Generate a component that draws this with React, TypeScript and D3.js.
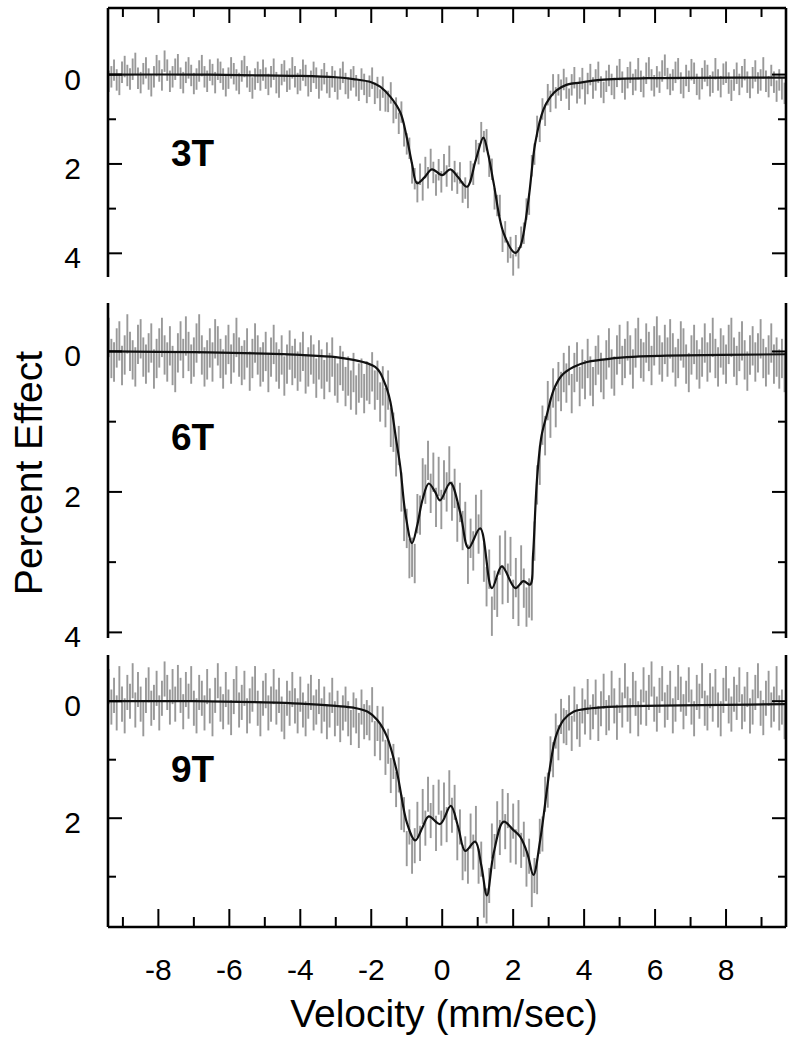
import React, { useEffect, useRef } from 'react';
import * as d3 from 'd3';

// channel velocities: first channel and spacing (mm/sec)
const VEL_START = -9.4;
const VEL_STEP = 0.075;

// percent effect per channel (positive = absorption, drawn downward)
const SPECTRUM_3T = [
	0.15, 0.05, -0.1, 0.12, 0.22, -0.05, -0.18, 0.02, 0.1, -0.12,
	-0.25, 0.08, 0.18, -0.02, -0.15, 0.1, 0.25, 0.05, -0.2, -0.08,
	0.12, -0.3, -0.1, 0.15, 0.05, -0.12, -0.22, 0.08, 0.18, -0.05,
	-0.15, 0.02, 0.2, 0.1, -0.08, -0.2, 0.05, 0.15, -0.1, 0.0,
	0.18, -0.12, -0.05, 0.1, 0.25, 0.08, -0.15, -0.02, 0.12, 0.2,
	-0.08, -0.18, 0.05, 0.15, 0.3, 0.1, -0.05, 0.12, -0.1, 0.08,
	0.22, 0.05, -0.12, 0.18, 0.28, 0.0, -0.08, 0.15, 0.1, -0.15,
	0.05, 0.2, 0.12, -0.1, 0.02, 0.25, 0.15, -0.05, 0.08, 0.3,
	0.12, -0.02, 0.18, 0.28, 0.05, 0.15, 0.32, 0.1, -0.05, 0.2,
	0.3, 0.12, 0.05, 0.25, 0.35, 0.1, 0.22, 0.4,
	0.26, 0.08, 0.42, 0.29, 0.57, 0.28, 0.59, 0.6, 0.41, 0.85,
	0.75, 1.09, 0.84, 1.37, 1.55, 1.65, 2.2, 2.33, 2.62, 2.23,
	2.58, 2.08, 2.31, 1.9, 2.19, 2.47, 2.13, 2.4, 2.02, 2.27,
	1.83, 2.36, 2.17, 2.43, 2.2, 2.63, 2.54, 2.75, 2.17, 2.23,
	1.7, 1.77, 1.3, 1.5, 1.46, 2.05, 2.12, 2.78, 2.93, 2.93,
	3.73, 3.52, 3.97, 3.87, 4.26, 3.83, 4.1, 3.64, 3.55, 3.01,
	2.9, 2.04, 1.78, 1.16, 1.27, 0.77, 0.91, 0.45, 0.6, 0.23,
	0.52, 0.23, 0.35, 0.11,
	0.3, 0.55, 0.23, 0.07, 0.41, 0.3, 0.09, 0.43, 0.2, 0.0,
	0.3, 0.12, -0.05, 0.28, 0.4, 0.15, 0.02, 0.22, 0.31, 0.04,
	-0.11, 0.17, 0.32, 0.07, -0.05, 0.22, 0.12, -0.13, 0.15, 0.27,
	-0.03, -0.15, 0.12, 0.25, 0.05, 0.17, -0.08, -0.21, 0.09, 0.22,
	0.12, -0.05, -0.13, 0.19, 0.29, 0.02, 0.15, -0.11, -0.03, 0.22,
	0.32, 0.09, -0.08, 0.02, 0.25, 0.17, -0.13, 0.12, 0.27, -0.01,
	-0.05, 0.19, 0.35, 0.12, -0.03, 0.22, 0.05, -0.11, 0.17, 0.29,
	0.07, -0.08, 0.19, 0.12, -0.15, 0.15, 0.27, 0.02, 0.17, 0.37,
	0.12, 0.32, 0.42,
];

const SPECTRUM_6T = [
	-0.2, 0.1, 0.15, -0.05, -0.15, 0.2, 0.05, -0.25, 0.0, 0.12,
	0.22, -0.1, -0.18, 0.08, 0.18, 0.02, -0.12, 0.25, 0.1, -0.05,
	-0.2, 0.05, 0.15, -0.08, 0.2, 0.3, 0.02, -0.15, 0.1, -0.22,
	0.0, 0.18, 0.08, -0.12, -0.25, 0.05, 0.22, 0.12, -0.05, 0.15,
	-0.18, -0.08, 0.1, 0.25, 0.05, -0.1, 0.18, 0.02, -0.2, 0.08,
	0.2, 0.12, -0.05, 0.28, 0.1, -0.12, 0.05, 0.22, 0.15, 0.0,
	0.3, 0.08, -0.1, 0.15, 0.25, 0.05, 0.35, 0.18, -0.02, 0.2,
	0.1, 0.28, 0.15, 0.0, 0.32, 0.22, 0.05, 0.18, 0.38, 0.12,
	0.25, 0.4, 0.15, 0.3, 0.08, 0.35, 0.45, 0.2, 0.28, 0.5,
	0.35, 0.55, 0.3, 0.62, 0.45, 0.38, 0.6, 0.42,
	0.47, 0.29, 0.55, 0.41, 0.72, 0.49, 0.8, 0.55, 1.08, 1.15,
	1.5, 1.34, 2.0, 2.42, 2.52, 2.95, 2.93, 3.02, 2.31, 2.33,
	1.8, 1.89, 1.55, 2.02, 1.72, 2.22, 1.78, 2.25, 1.83, 2.0,
	1.63, 2.13, 1.95, 2.43, 2.15, 2.55, 2.42, 3.03, 2.66, 2.84,
	2.32, 2.6, 2.25, 3.0, 3.35, 3.1, 3.77, 3.4, 3.5, 2.9,
	3.32, 2.83, 3.3, 2.92, 3.53, 3.22, 3.63, 3.04, 3.37, 3.64,
	3.51, 3.55, 2.7, 1.9, 1.62, 1.05, 1.2, 0.7, 0.95, 0.52,
	0.8, 0.43, 0.57, 0.3,
	0.45, 0.2, 0.6, 0.3, 0.15, 0.5, 0.25, 0.4, 0.1, 0.35,
	0.5, 0.2, 0.05, 0.3, 0.4, 0.12, -0.05, 0.25, 0.35, 0.05,
	-0.1, 0.2, 0.1, -0.15, 0.05, 0.25, -0.05, -0.2, 0.1, 0.15,
	-0.12, 0.0, 0.2, -0.08, -0.22, 0.05, 0.15, -0.1, 0.08, -0.18,
	0.02, 0.22, 0.1, -0.15, -0.05, 0.18, 0.3, 0.05, -0.1, 0.12,
	0.25, 0.08, -0.12, 0.15, 0.02, -0.2, 0.1, 0.22, -0.05, 0.05,
	0.18, -0.1, -0.2, 0.08, 0.2, 0.0, -0.15, 0.12, 0.28, 0.05,
	-0.08, 0.15, 0.02, -0.18, 0.1, 0.22, 0.05, -0.12, 0.18, 0.08,
	0.25, 0.1, 0.3,
];

const SPECTRUM_9T = [
	-0.25, 0.1, -0.1, 0.2, -0.3, 0.05, 0.25, -0.15, 0.0, -0.35,
	0.15, -0.2, 0.05, 0.3, -0.1, -0.28, 0.12, 0.02, -0.22, 0.2,
	-0.05, -0.38, -0.15, 0.1, -0.25, 0.05, -0.32, -0.1, 0.18, -0.2,
	0.0, -0.3, 0.12, 0.25, -0.15, -0.05, 0.2, -0.25, 0.08, 0.3,
	-0.1, -0.35, 0.05, 0.18, -0.2, 0.1, 0.28, -0.08, -0.3, 0.15,
	0.02, -0.22, 0.25, 0.08, -0.12, -0.3, 0.12, 0.3, -0.05, -0.18,
	0.2, 0.05, -0.25, 0.1, -0.1, 0.22, 0.35, -0.05, 0.12, -0.2,
	0.08, 0.25, -0.12, 0.15, 0.3, 0.0, -0.15, 0.2, 0.1, -0.08,
	0.25, 0.05, 0.35, 0.15, -0.1, 0.3, 0.12, 0.4, 0.2, 0.05,
	0.3, 0.45, 0.15, 0.25, 0.5, 0.1, 0.35, 0.28,
	0.37, 0.06, 0.64, 0.38, 0.71, 0.39, 0.96, 0.77, 1.27, 1.03,
	1.51, 1.26, 1.9, 1.94, 2.52, 2.15, 2.65, 2.47, 2.02, 2.43,
	1.8, 2.17, 1.59, 2.04, 1.73, 2.26, 1.64, 2.17, 1.69, 2.11,
	1.48, 1.95, 1.73, 2.42, 2.15, 2.76, 2.61, 2.82, 2.22, 2.58,
	2.09, 2.82, 2.7, 3.4, 3.5, 3.15, 2.39, 2.57, 2.01, 2.33,
	1.8, 2.23, 1.87, 2.46, 2.05, 2.49, 1.99, 2.55, 2.36, 2.87,
	2.65, 3.22, 2.98, 3.0, 2.31, 2.27, 1.59, 1.52, 0.9, 1.0,
	0.51, 0.71, 0.26, 0.42,
	0.45, 0.2, 0.55, 0.05, 0.35, 0.48, 0.08, 0.27, -0.08, 0.36,
	0.18, -0.07, 0.38, 0.13, -0.17, 0.28, 0.2, -0.22, 0.08, 0.36,
	-0.1, 0.15, -0.35, 0.05, 0.25, -0.2, -0.05, 0.3, 0.1, -0.28,
	0.12, -0.15, -0.38, 0.05, 0.22, -0.1, -0.3, 0.15, 0.02, -0.22,
	0.25, 0.05, -0.32, -0.12, 0.18, -0.05, -0.28, 0.1, 0.3, -0.15,
	0.0, -0.35, 0.12, 0.2, -0.18, 0.05, -0.25, 0.15, 0.3, -0.1,
	-0.3, 0.08, 0.22, -0.12, 0.02, -0.28, 0.18, 0.05, -0.2, 0.25,
	0.1, -0.15, -0.35, 0.12, 0.28, -0.05, -0.22, 0.15, 0.05, -0.3,
	0.2, 0.1, 0.35,
];

// error bar half-widths (percent effect)
const ERR_3T = 0.24;
const ERR_6T = 0.28;
const ERR_9T = 0.3;

// fitted curves: [velocity, percent effect]
const FIT_3T = [
	[-9.42, 0.0], [-7, 0.0], [-5, 0.02], [-4, 0.03], [-3, 0.06], [-2.5, 0.1], [-2.0, 0.17],
	[-1.75, 0.27], [-1.46, 0.5], [-1.18, 0.85], [-1.0, 1.4], [-0.85, 2.0], [-0.71, 2.43],
	[-0.5, 2.3], [-0.29, 2.12], [0.0, 2.25], [0.23, 2.12], [0.45, 2.3], [0.7, 2.51],
	[0.95, 1.9], [1.16, 1.41], [1.3, 1.8], [1.45, 2.43], [1.73, 3.55], [2.06, 3.99],
	[2.2, 3.85], [2.43, 2.81], [2.62, 1.54], [2.85, 0.79], [3.05, 0.5], [3.23, 0.35],
	[3.5, 0.23], [3.89, 0.18], [4.45, 0.12], [5.86, 0.08], [9.69, 0.07],
];
const FIT_6T = [
	[-9.42, 0.0], [-7, 0.01], [-5, 0.03], [-4, 0.05], [-3, 0.08], [-2.5, 0.12], [-2.1, 0.17],
	[-1.89, 0.22], [-1.75, 0.3], [-1.66, 0.4], [-1.56, 0.53], [-1.46, 0.72], [-1.3, 1.25],
	[-1.18, 1.65], [-1.04, 2.3], [-0.85, 2.73], [-0.71, 2.49], [-0.55, 2.1], [-0.38, 1.88],
	[-0.2, 2.0], [-0.06, 2.12], [0.23, 1.87], [0.51, 2.3], [0.74, 2.8], [1.07, 2.52],
	[1.4, 3.37], [1.68, 3.06], [2.06, 3.37], [2.29, 3.27], [2.48, 3.32], [2.56, 2.9],
	[2.67, 1.83], [2.8, 1.2], [2.95, 0.9], [3.14, 0.55], [3.34, 0.36], [3.51, 0.28],
	[3.7, 0.22], [4.08, 0.15], [4.45, 0.12], [5.2, 0.08], [6.33, 0.06], [9.69, 0.04],
];
const FIT_9T = [
	[-9.42, 0.0], [-7, 0.0], [-5, 0.02], [-4, 0.04], [-3, 0.08], [-2.5, 0.11], [-2.1, 0.18],
	[-1.83, 0.32], [-1.56, 0.6], [-1.28, 1.2], [-0.99, 2.09], [-0.76, 2.38], [-0.55, 2.15],
	[-0.38, 1.97], [-0.06, 2.1], [0.24, 1.79], [0.45, 2.15], [0.65, 2.56], [0.93, 2.4],
	[1.1, 2.8], [1.26, 3.32], [1.45, 2.6], [1.73, 2.06], [2.0, 2.2], [2.2, 2.32], [2.4, 2.6],
	[2.57, 2.97], [2.76, 2.38], [2.95, 1.52], [3.04, 1.12], [3.2, 0.61], [3.42, 0.32],
	[3.7, 0.18], [4.2, 0.12], [5.0, 0.09], [9.69, 0.05],
];

const X_MAJOR = [-8, -6, -4, -2, 0, 2, 4, 6, 8];
const X_MINOR = [-9, -7, -5, -3, -1, 1, 3, 5, 7, 9];
const Y_TICKS_3T = [0, 1, 2, 3, 4];
const Y_TICKS_6T = [0, 1, 2, 3, 4];
const Y_TICKS_9T = [0, 1, 2, 3];
const Y_LABELS_3T = [0, 2, 4];
const Y_LABELS_6T = [0, 2, 4];
const Y_LABELS_9T = [0, 2];

const FONT = '"Liberation Sans", Arial, Helvetica, sans-serif';

export default function App() {
	const ref = useRef<SVGSVGElement>(null);

	useEffect(() => {
		const svg = d3.select(ref.current);
		svg.selectAll('*').remove();

		const x = d3.scaleLinear().domain([-9.42, 9.69]).range([108, 786]);
		const [xl, xr] = x.range();

		const panels = [
			{ name: '3T', data: SPECTRUM_3T, err: ERR_3T, fit: FIT_3T, domain: [-1.49, 4.53], range: [8, 277], ticks: Y_TICKS_3T, labels: Y_LABELS_3T, nameY: 166 },
			{ name: '6T', data: SPECTRUM_6T, err: ERR_6T, fit: FIT_6T, domain: [-0.69, 4.08], range: [303, 638], ticks: Y_TICKS_6T, labels: Y_LABELS_6T, nameY: 450 },
			{ name: '9T', data: SPECTRUM_9T, err: ERR_9T, fit: FIT_9T, domain: [-0.79, 3.86], range: [655, 927], ticks: Y_TICKS_9T, labels: Y_LABELS_9T, nameY: 782 },
		];

		panels.forEach((p, k) => {
			const y = d3.scaleLinear().domain(p.domain).range(p.range);
			const g = svg.append('g');
			const vel = (i: number) => VEL_START + i * VEL_STEP;

			// error bars
			g.append('g')
				.selectAll('line')
				.data(p.data)
				.join('line')
				.attr('x1', (d, i) => x(vel(i)))
				.attr('x2', (d, i) => x(vel(i)))
				.attr('y1', d => y(d - p.err))
				.attr('y2', d => y(d + p.err))
				.attr('stroke', '#999')
				.attr('stroke-width', 1.9);

			// fit
			const line = d3
				.line<number[]>()
				.x(d => x(d[0]))
				.y(d => y(d[1]))
				.curve(d3.curveCatmullRom.alpha(0.5));
			g.append('path')
				.attr('d', line(p.fit))
				.attr('fill', 'none')
				.attr('stroke', '#111')
				.attr('stroke-width', 2.2);

			// side frame lines
			[xl, xr].forEach(xx => {
				g.append('line')
					.attr('x1', xx).attr('x2', xx)
					.attr('y1', p.range[0]).attr('y2', p.range[1])
					.attr('stroke', '#000').attr('stroke-width', 2.6);
			});

			// y ticks, left and right, pointing inward
			p.ticks.forEach(t => {
				const len = t % 2 === 0 ? 14 : 8;
				g.append('line').attr('x1', xl).attr('x2', xl + len).attr('y1', y(t)).attr('y2', y(t))
					.attr('stroke', '#000').attr('stroke-width', 2);
				g.append('line').attr('x1', xr).attr('x2', xr - len).attr('y1', y(t)).attr('y2', y(t))
					.attr('stroke', '#000').attr('stroke-width', 2);
			});
			p.labels.forEach(t => {
				g.append('text')
					.attr('x', 81)
					.attr('y', y(t) + 15)
					.attr('text-anchor', 'end')
					.attr('font-family', FONT)
					.attr('font-size', 30)
					.text(t);
			});

			g.append('text')
				.attr('x', 171)
				.attr('y', p.nameY)
				.attr('font-family', FONT)
				.attr('font-size', 37)
				.attr('font-weight', 'bold')
				.text(p.name);

			// top frame for the first panel, bottom axis for the last
			if (k === 0 || k === panels.length - 1) {
				const top = k === 0;
				const yy = top ? p.range[0] : p.range[1];
				const dir = top ? 1 : -1;
				g.append('line').attr('x1', xl).attr('x2', xr).attr('y1', yy).attr('y2', yy)
					.attr('stroke', '#000').attr('stroke-width', 2.6);
				X_MAJOR.forEach(t => {
					g.append('line').attr('x1', x(t)).attr('x2', x(t)).attr('y1', yy).attr('y2', yy + dir * (top ? 15 : 18))
						.attr('stroke', '#000').attr('stroke-width', 2);
				});
				X_MINOR.forEach(t => {
					g.append('line').attr('x1', x(t)).attr('x2', x(t)).attr('y1', yy).attr('y2', yy + dir * (top ? 9 : 10))
						.attr('stroke', '#000').attr('stroke-width', 2);
				});
				if (!top) {
					X_MAJOR.forEach(t => {
						g.append('text')
							.attr('x', x(t))
							.attr('y', 980)
							.attr('text-anchor', 'middle')
							.attr('font-family', FONT)
							.attr('font-size', 30)
							.text(t);
					});
				}
			}
		});

		svg.append('text')
			.attr('x', 444)
			.attr('y', 1027)
			.attr('text-anchor', 'middle')
			.attr('font-family', FONT)
			.attr('font-size', 39)
			.text('Velocity (mm/sec)');

		svg.append('text')
			.attr('transform', 'translate(42,473) rotate(-90)')
			.attr('text-anchor', 'middle')
			.attr('font-family', FONT)
			.attr('font-size', 39)
			.text('Percent Effect');
	}, []);

	return (
		<svg
			ref={ref}
			width={800}
			height={1041}
			style={{ position: 'absolute', left: 0, top: 0, background: '#fff' }}
		/>
	);
}
